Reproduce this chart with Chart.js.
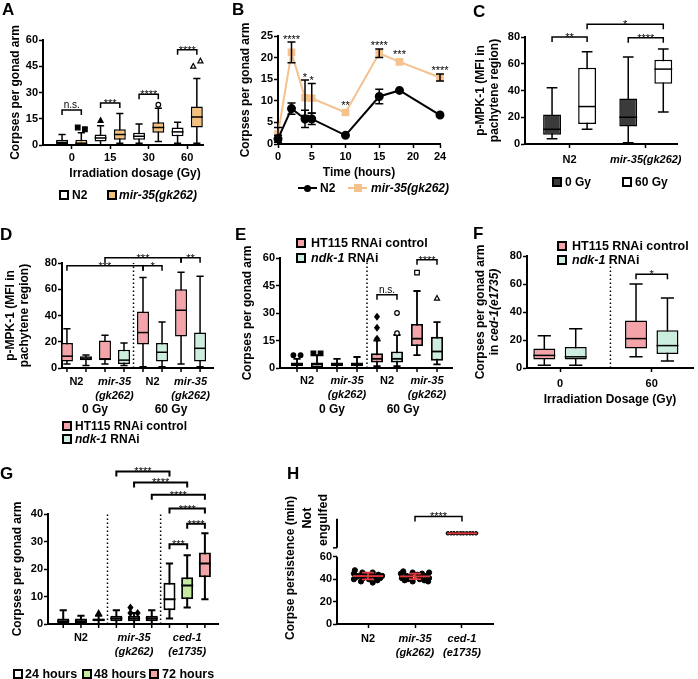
<!DOCTYPE html>
<html>
<head>
<meta charset="utf-8">
<script src="https://cdn.jsdelivr.net/npm/chart.js@4.4.1/dist/chart.umd.min.js"></script>
<style>
  html, body { margin: 0; padding: 0; background: #fff; }
  body { position: relative; width: 698px; height: 679px; overflow: hidden;
         font-family: "Liberation Sans", Arial, sans-serif; font-weight: bold; color: #000; }
  canvas { position: absolute; }
  .t { position: absolute; white-space: nowrap; line-height: 1; transform: translateY(-50%); z-index: 2; }
  .c { position: absolute; white-space: nowrap; line-height: 1; transform: translate(-50%, -50%); z-index: 2; }
  .r { position: absolute; white-space: nowrap; line-height: 1; transform: translate(-50%, -50%) rotate(-90deg); z-index: 2; }
  .sw { position: absolute; box-sizing: border-box; width: 10px; height: 10px; border: 2px solid #000; transform: translateY(-50%); z-index: 2; }
  .k { position: absolute; z-index: 2; }
</style>
</head>
<body>
<script>
// ---------- A : corpses vs irradiation dose ----------
const doseLabels = ['0', '15', '30', '60'];
const aN2Min = [0, 0, 1, 1];
const aN2Q1  = [0.5, 2, 3, 5];
const aN2Med = [1.5, 4, 5, 7.5];
const aN2Q3  = [3, 6, 7, 10];
const aN2Max = [6, 11, 12, 13];
const aN2Out = [[], [14], [], []];
const aMirMin = [0, 1, 2, 1];
const aMirQ1  = [0.5, 3, 7, 10];
const aMirMed = [1, 6, 10, 16];
const aMirQ3  = [3, 9, 13, 22];
const aMirMax = [7, 18, 21, 38];
const aMirOut = [[10, 9], [], [23], [45, 48]];
const aSig = [[0, 0, 0, 1, 20, 'n.s.'], [1, 0, 1, 1, 24, '***'], [2, 0, 2, 1, 29, '****'], [3, 0, 3, 1, 54.5, '****']];

// ---------- B : time course ----------
const hours = [0, 2, 4, 5, 10, 15, 18, 24];
const bN2Mean = [1.2, 8.2, 5.8, 5.8, 2.0, 11.0, 12.4, 6.7];
const bN2Sem  = [0.8, 1.3, 2.0, 1.3, 0, 1.7, 0, 0];
const bMirMean = [2.3, 21.2, 10.7, 10.6, 7.3, 21.0, 19.0, 15.4];
const bMirSem  = [1.5, 2.4, 4.1, 3.4, 0, 1.0, 0, 0.8];
const bSig = ['', '****', '*', '*', '**', '****', '***', '****'];

// ---------- C : p-MPK-1 ----------
const strainLabels = ['N2', 'mir-35(gk262)'];
const c0Min = [4, 1],   c0Q1 = [7, 13],  c0Med = [11, 20], c0Q3 = [22, 34], c0Max = [42, 65];
const c60Min = [11, 24], c60Q1 = [15, 45], c60Med = [28, 56], c60Q3 = [57, 63], c60Max = [69, 71];
const cSig = [[0, 0, 0, 1, 80, '**'], [1, 0, 1, 1, 79.5, '****'], [0, 1, 1, 1, 89.5, '*']];

// ---------- D : p-MPK-1 with RNAi ----------
const rnaiLabels = [['N2'], ['mir-35', '(gk262)'], ['N2'], ['mir-35', '(gk262)']];
const dCtlMin = [3, 3, 1, 3],  dCtlQ1 = [5, 6, 18, 24], dCtlMed = [9, 7, 27, 44], dCtlQ3 = [19, 21, 43, 60], dCtlMax = [30, 25, 69, 73];
const dNdkMin = [2, 2, 1, 1],  dNdkQ1 = [6, 3, 5, 5],   dNdkMed = [7.5, 6, 12, 15], dNdkQ3 = [9, 14, 19, 27], dNdkMax = [10, 19, 35, 70];
const dSig = [[0, 0, 2, 0, 78, '***'], [2, 0, 2, 1, 78, '*'], [1, 0, 3, 0, 84, '***'], [3, 0, 3, 1, 84, '**']];

// ---------- E : corpses with RNAi ----------
const eCtlMin = [0, 0, 1, 7],  eCtlQ1 = [1, 1, 3, 12], eCtlMed = [2, 2, 5, 16], eCtlQ3 = [3, 3, 8, 24], eCtlMax = [5, 5, 15, 42];
const eCtlOut = [[7, 7], [], [28, 22, 16], [52]];
const eNdkMin = [0, 0, 1, 2],  eNdkQ1 = [0, 1, 3, 4],  eNdkMed = [2, 2, 5, 9],  eNdkQ3 = [3, 3, 9, 17], eNdkMax = [7, 6, 18, 25];
const eNdkOut = [[8, 8], [], [30, 19], [38]];
const eSig = [[2, 0, 2, 1, 40, 'n.s.'], [3, 0, 3, 1, 59, '****']];

// ---------- F : ced-1 background ----------
const fDoseLabels = ['0', '60'];
const fCtlMin = [2, 8], fCtlQ1 = [6, 14], fCtlMed = [9, 21], fCtlQ3 = [14, 34], fCtlMax = [23, 60];
const fNdkMin = [2, 5], fNdkQ1 = [6, 10], fNdkMed = [8, 16], fNdkQ3 = [15, 27], fNdkMax = [28, 50];
const fSig = [[1, 0, 1, 1, 67, '*']];

// ---------- G : 24 / 48 / 72 hours ----------
const gLabels = [['N2'], ['mir-35', '(gk262)'], ['ced-1', '(e1735)']];
const g24Min = [0, 0, 2],  g24Q1 = [0, 1, 5],  g24Med = [1, 2, 9],    g24Q3 = [2, 3, 15], g24Max = [5, 5, 22];
const g48Min = [0, 0, 6],  g48Q1 = [0, 1, 9],  g48Med = [1, 2, 14],   g48Q3 = [2, 3, 17], g48Max = [3, 4, 25];
const g72Min = [0, 0, 9],  g72Q1 = [1, 1, 17], g72Med = [1.5, 2, 22], g72Q3 = [2, 3, 26], g72Max = [3, 5, 33];
const g24Out = [[], [], []], g48Out = [[], [6, 4, 4], []], g72Out = [[4], [], []];
const gSig = [[2, 0, 2, 1, 29, '***'], [2, 1, 2, 2, 36.5, '****'], [2, 0, 2, 2, 42, '****'],
              [1, 2, 2, 2, 47, '****'], [1, 1, 2, 1, 51.5, '****'], [1, 0, 2, 0, 55.5, '****']];

// ---------- H : corpse persistence ----------
const hLabels = [['N2'], ['mir-35', '(gk262)'], ['ced-1', '(e1735)']];
const hN2Val = [48, 46, 46, 45, 44, 44, 43, 43, 43, 42, 42, 41, 41, 40, 40, 39, 38, 37];
const hN2Jit = [-0.28, -0.12, 0.1, -0.3, 0.22, -0.05, -0.2, 0.05, 0.3, -0.25, 0.15, -0.1, 0.26, -0.3, 0.02, 0.2, -0.15, 0.1];
const hMirVal = [47, 46, 46, 45, 45, 44, 43, 43, 42, 42, 41, 41, 40, 40, 39, 39, 38, 38];
const hMirJit = [-0.25, -0.05, 0.3, -0.3, 0.15, 0.05, -0.18, 0.25, -0.1, 0.12, -0.28, 0.3, -0.15, 0.1, -0.22, 0.2, -0.05, 0.28];
const hCedVal = [81, 81, 81, 81, 81, 81, 81, 81, 81, 81];   // "not engulfed" band
const hCedJit = [-0.3, -0.23, -0.17, -0.1, -0.03, 0.03, 0.1, 0.17, 0.23, 0.3];
const hMean = [42.8, 42.5, 81];
const hSd = [3, 2.5, 0];
const hSig = [[1, 2, 96, '****']];

// ---------- styling ----------
const FONT = '"Liberation Sans", Arial, sans-serif';
const PINK = '#F4A3A8', MINT = '#CDEEDF', ORANGE = '#F5C07C', PEACH = '#F5C28E';
const LIME = '#C6E9A0', ROSE = '#F3A3A5', DARK = '#3B3B3B', RED = '#E2383C';
const LH = 13.8; // axis title line height

Chart.defaults.font.family = FONT;
Chart.defaults.font.weight = 'bold';
Chart.defaults.font.size = 11;
Chart.defaults.color = '#000';

function frame(p) {
  const cv = document.createElement('canvas');
  cv.width = p.canvas.w; cv.height = p.canvas.h;
  cv.style.left = p.canvas.x + 'px'; cv.style.top = p.canvas.y + 'px';
  document.body.appendChild(cv);
  const padL = p.yTitle ? p.yTitleX - p.canvas.x - LH / 2 : 0;
  const padB = p.xTitle ? p.canvas.y + p.canvas.h - (p.xTitleY + LH / 2) : 0;
  return {
    cv,
    padding: { left: padL, top: p.area.t - p.canvas.y, right: p.canvas.x + p.canvas.w - p.area.r, bottom: padB },
    yW: p.area.l - p.canvas.x - padL,
    xH: p.canvas.y + p.canvas.h - padB - p.area.b
  };
}

function axisTitle(text) {
  return text ? { display: true, text, padding: 0, color: '#000', font: { size: 12, weight: 'bold', lineHeight: 1.15 } }
              : { display: false };
}

function yAxis(f, p) {
  const ax = {
    type: 'linear', position: 'left', min: p.yMin, max: p.yMax,
    ticks: { stepSize: p.yStep, padding: 1, font: { size: 11, weight: 'bold' } },
    grid: { drawOnChartArea: false, tickLength: 4, tickWidth: 1.5, tickColor: '#000' },
    border: { color: '#000', width: 2, display: !p.yBroken },
    title: axisTitle(p.yTitle),
    afterFit: s => { s.width = f.yW; s.paddingTop = s.paddingBottom = 0; }
  };
  if (p.yTicks) ax.afterBuildTicks = s => { s.ticks = p.yTicks.map(v => ({ value: v })); };
  return ax;
}

function xGroups(f, p) {
  return {
    type: 'linear', position: 'bottom', min: p.xMin, max: p.xMax, offset: false,
    afterBuildTicks: s => { s.ticks = p.labels.map((l, i) => ({ value: i })); },
    ticks: {
      autoSkip: false, maxRotation: 0, minRotation: 0, padding: p.tickPad,
      callback: (v, i) => p.labels[i],
      font: c => ({ size: 11, weight: 'bold', lineHeight: 1.25, style: p.italic[c.index] ? 'italic' : 'normal' })
    },
    grid: { offset: false, drawOnChartArea: false, tickLength: 4, tickWidth: 1.5,
            tickColor: p.boxTicks ? 'rgba(0,0,0,0)' : '#000' },
    border: { color: '#000', width: 2 },
    title: axisTitle(p.xTitle),
    afterFit: s => { s.height = f.xH; s.paddingLeft = s.paddingRight = 0; }
  };
}

function drawMark(ctx, type, x, y, r) {
  const open = type.charAt(0) === 'o';
  const shape = open ? type.slice(1) : type;
  ctx.save();
  ctx.lineWidth = 1.2; ctx.strokeStyle = '#000'; ctx.setLineDash([]);
  ctx.fillStyle = open ? '#fff' : '#000';
  ctx.beginPath();
  if (shape === 'circ') ctx.arc(x, y, r, 0, Math.PI * 2);
  else if (shape === 'sq') ctx.rect(x - r, y - r, 2 * r, 2 * r);
  else if (shape === 'tri') { ctx.moveTo(x, y - r * 1.2); ctx.lineTo(x + r * 1.1, y + r * 0.8); ctx.lineTo(x - r * 1.1, y + r * 0.8); ctx.closePath(); }
  else if (shape === 'dia') { ctx.moveTo(x, y - r * 1.3); ctx.lineTo(x + r, y); ctx.lineTo(x, y + r * 1.3); ctx.lineTo(x - r, y); ctx.closePath(); }
  ctx.fill(); ctx.stroke();
  ctx.restore();
}

function drawBracket(ctx, x1, x2, y, text, lw) {
  ctx.save();
  ctx.strokeStyle = '#000'; ctx.fillStyle = '#000'; ctx.lineWidth = lw || 1.5; ctx.setLineDash([]);
  ctx.beginPath();
  ctx.moveTo(x1, y + 5); ctx.lineTo(x1, y); ctx.lineTo(x2, y); ctx.lineTo(x2, y + 5);
  ctx.stroke();
  ctx.textAlign = 'center'; ctx.textBaseline = 'alphabetic';
  if (text.charAt(0) === '*') { ctx.font = 'normal 11px ' + FONT; ctx.fillText(text, (x1 + x2) / 2, y + 4); }
  else { ctx.font = 'normal 10px ' + FONT; ctx.fillText(text, (x1 + x2) / 2, y - 2); }
  ctx.restore();
}

// whiskers, medians, outliers, brackets and dotted dividers for a box panel
function boxPlugin(p) {
  const els = (chart, si) => chart.getDatasetMeta(si).data;
  const lw = p.lw || 1.5;
  return {
    id: 'boxes',
    beforeDatasetsDraw(chart) {
      const ctx = chart.ctx, ys = chart.scales.y;
      ctx.save(); ctx.strokeStyle = '#000'; ctx.lineWidth = lw;
      p.series.forEach((s, si) => els(chart, si).forEach((el, gi) => {
        const x = el.x, c = el.width * 0.3;
        const lo = ys.getPixelForValue(s.min[gi]), hi = ys.getPixelForValue(s.max[gi]);
        ctx.beginPath();
        ctx.moveTo(x, lo); ctx.lineTo(x, hi);
        ctx.moveTo(x - c, lo); ctx.lineTo(x + c, lo);
        ctx.moveTo(x - c, hi); ctx.lineTo(x + c, hi);
        ctx.stroke();
      }));
      ctx.restore();
    },
    afterDatasetsDraw(chart) {
      const ctx = chart.ctx, ys = chart.scales.y, xs = chart.scales.x, area = chart.chartArea;
      ctx.save(); ctx.strokeStyle = '#000'; ctx.lineWidth = lw;
      p.series.forEach((s, si) => els(chart, si).forEach((el, gi) => {
        const y = ys.getPixelForValue(s.med[gi]);
        ctx.beginPath(); ctx.moveTo(el.x - el.width / 2, y); ctx.lineTo(el.x + el.width / 2, y); ctx.stroke();
        const outs = (s.out && s.out[gi]) || [];
        outs.forEach((v, k) => {
          const crowded = outs.some((w, j) => j !== k && Math.abs(w - v) <= 3);
          const dx = crowded ? (k % 2 ? 1 : -1) * el.width * 0.3 : 0;
          drawMark(ctx, s.marks[gi], el.x + dx, ys.getPixelForValue(v), 2.3);
        });
        if (p.boxTicks) {
          ctx.save(); ctx.lineWidth = 1.5;
          ctx.beginPath(); ctx.moveTo(el.x, area.bottom); ctx.lineTo(el.x, area.bottom + 4); ctx.stroke();
          ctx.restore();
        }
      }));
      (p.dividers || []).forEach(v => {
        const x = xs.getPixelForValue(v);
        ctx.save(); ctx.setLineDash([1.5, 2.5]); ctx.lineWidth = 1.5;
        ctx.beginPath(); ctx.moveTo(x, area.bottom); ctx.lineTo(x, ys.getPixelForValue(p.dividerTop)); ctx.stroke();
        ctx.restore();
      });
      (p.brackets || []).forEach(([g1, s1, g2, s2, v, t]) => {
        drawBracket(ctx, els(chart, s1)[g1].x, els(chart, s2)[g2].x, ys.getPixelForValue(v), t, p.bracketWidth);
      });
      ctx.restore();
    }
  };
}

function boxPanel(p) {
  const f = frame(p);
  const datasets = p.series.map(s => ({
    data: s.q1.map((q, i) => ({ x: i, y: [q, s.q3[i]] })),
    backgroundColor: s.fill, borderColor: '#000', borderWidth: p.lw || 1.5, borderSkipped: false,
    categoryPercentage: p.cat, barPercentage: p.bar
  }));
  new Chart(f.cv, {
    type: 'bar',
    data: { datasets },
    options: {
      responsive: false, animation: false, devicePixelRatio: 1,
      layout: { padding: f.padding },
      plugins: { legend: { display: false }, tooltip: { enabled: false } },
      scales: { x: xGroups(f, p), y: yAxis(f, p) }
    },
    plugins: [boxPlugin(p)]
  });
}

// ---------- panel A ----------
boxPanel({
  canvas: { x: 0, y: 15, w: 228, h: 170 }, area: { l: 43, t: 40, r: 203, b: 145 },
  yTitle: 'Corpses per gonad arm', yTitleX: 16, yMin: 0, yMax: 60, yStep: 15,
  labels: doseLabels, italic: [], xMin: -0.745, xMax: 3.41, cat: 1, bar: 0.62, tickPad: 2,
  series: [
    { fill: '#fff', min: aN2Min, q1: aN2Q1, med: aN2Med, q3: aN2Q3, max: aN2Max, out: aN2Out, marks: ['circ', 'tri', 'circ', 'circ'] },
    { fill: ORANGE, min: aMirMin, q1: aMirQ1, med: aMirMed, q3: aMirQ3, max: aMirMax, out: aMirOut, marks: ['sq', 'circ', 'ocirc', 'otri'] }
  ],
  brackets: aSig
});

// ---------- panel B ----------
(function () {
  const p = { canvas: { x: 228, y: 15, w: 232, h: 172 }, area: { l: 278, t: 36, r: 440, b: 144 },
              yTitle: 'Corpses per gonad arm', yTitleX: 246, xTitle: 'Time (hours)', xTitleY: 173,
              yMin: 0, yMax: 25, yStep: 5 };
  const f = frame(p);
  const errPlugin = {
    id: 'errs',
    afterDatasetsDraw(chart) {
      const ctx = chart.ctx, ys = chart.scales.y;
      ctx.save(); ctx.strokeStyle = '#000'; ctx.fillStyle = '#000'; ctx.lineWidth = 1.5;
      [[bN2Mean, bN2Sem], [bMirMean, bMirSem]].forEach(([m, e], di) => {
        chart.getDatasetMeta(di).data.forEach((pt, i) => {
          if (!e[i]) return;
          const y1 = ys.getPixelForValue(m[i] - e[i]), y2 = ys.getPixelForValue(m[i] + e[i]);
          ctx.beginPath();
          ctx.moveTo(pt.x, y1); ctx.lineTo(pt.x, y2);
          ctx.moveTo(pt.x - 4, y1); ctx.lineTo(pt.x + 4, y1);
          ctx.moveTo(pt.x - 4, y2); ctx.lineTo(pt.x + 4, y2);
          ctx.stroke();
        });
      });
      ctx.font = 'normal 11px ' + FONT; ctx.textAlign = 'center'; ctx.textBaseline = 'alphabetic';
      chart.getDatasetMeta(1).data.forEach((pt, i) => {
        if (!bSig[i]) return;
        const top = Math.min(ys.getPixelForValue(bMirMean[i] + bMirSem[i]), pt.y - 4);
        ctx.fillText(bSig[i], pt.x, top + 0.5);
      });
      ctx.restore();
    }
  };
  new Chart(f.cv, {
    type: 'line',
    data: {
      datasets: [
        { data: hours.map((h, i) => ({ x: h, y: bN2Mean[i] })), borderColor: '#000', backgroundColor: '#000',
          borderWidth: 2, pointStyle: 'circle', pointRadius: 3.5, clip: false },
        { data: hours.map((h, i) => ({ x: h, y: bMirMean[i] })), borderColor: PEACH, backgroundColor: PEACH,
          borderWidth: 2, pointStyle: 'rect', pointRadius: 4, clip: false }
      ]
    },
    options: {
      responsive: false, animation: false, devicePixelRatio: 1,
      layout: { padding: f.padding },
      plugins: { legend: { display: false }, tooltip: { enabled: false } },
      scales: {
        x: { type: 'linear', min: 0, max: 24,
             ticks: { stepSize: 5, padding: 2, font: { size: 11, weight: 'bold' } },
             grid: { drawOnChartArea: false, tickLength: 4, tickWidth: 1.5, tickColor: '#000' },
             border: { color: '#000', width: 2 },
             title: axisTitle(p.xTitle),
             afterFit: s => { s.height = f.xH; s.paddingLeft = s.paddingRight = 0; } },
        y: yAxis(f, p)
      }
    },
    plugins: [errPlugin]
  });
})();

// ---------- panel C ----------
boxPanel({
  canvas: { x: 460, y: 5, w: 238, h: 170 }, area: { l: 525, t: 37, r: 677, b: 144 },
  yTitle: ['p-MPK-1 (MFI in', 'pachytene region)'], yTitleX: 481, yMin: 0, yMax: 80, yStep: 20,
  labels: strainLabels, italic: [false, true], xMin: -0.585, xMax: 1.41, cat: 0.92, bar: 0.51, tickPad: 5,
  series: [
    { fill: DARK, min: c0Min, q1: c0Q1, med: c0Med, q3: c0Q3, max: c0Max },
    { fill: '#fff', min: c60Min, q1: c60Q1, med: c60Med, q3: c60Q3, max: c60Max }
  ],
  brackets: cSig
});

// ---------- panel D ----------
boxPanel({
  canvas: { x: 0, y: 235, w: 228, h: 172 }, area: { l: 62, t: 263, r: 213, b: 368 },
  yTitle: ['p-MPK-1 (MFI in', 'pachytene region)'], yTitleX: 11, yMin: 0, yMax: 80, yStep: 20,
  labels: rnaiLabels, italic: [false, true, false, true], xMin: -0.38, xMax: 3.59, cat: 1, bar: 0.63, tickPad: 3,
  boxTicks: true, dividers: [1.5], dividerTop: 80,
  series: [
    { fill: PINK, min: dCtlMin, q1: dCtlQ1, med: dCtlMed, q3: dCtlQ3, max: dCtlMax },
    { fill: MINT, min: dNdkMin, q1: dNdkQ1, med: dNdkMed, q3: dNdkQ3, max: dNdkMax }
  ],
  brackets: dSig
});

// ---------- panel E ----------
boxPanel({
  canvas: { x: 228, y: 235, w: 232, h: 172 }, area: { l: 280, t: 258, r: 452, b: 368 },
  yTitle: 'Corpses per gonad arm', yTitleX: 248, yMin: 0, yMax: 60, yStep: 15,
  labels: rnaiLabels, italic: [false, true, false, true], xMin: -0.675, xMax: 3.625, cat: 1, bar: 0.6, tickPad: 2,
  boxTicks: true, dividers: [1.5], dividerTop: 60, lw: 1.8,
  series: [
    { fill: PINK, min: eCtlMin, q1: eCtlQ1, med: eCtlMed, q3: eCtlQ3, max: eCtlMax, out: eCtlOut, marks: ['circ', 'circ', 'dia', 'osq'] },
    { fill: MINT, min: eNdkMin, q1: eNdkQ1, med: eNdkMed, q3: eNdkQ3, max: eNdkMax, out: eNdkOut, marks: ['sq', 'sq', 'ocirc', 'otri'] }
  ],
  brackets: eSig
});

// ---------- panel F ----------
boxPanel({
  canvas: { x: 460, y: 235, w: 238, h: 172 }, area: { l: 527, t: 256, r: 693, b: 368 },
  xTitle: 'Irradiation Dosage (Gy)', xTitleY: 400, yMin: 0, yMax: 80, yStep: 20,
  labels: fDoseLabels, italic: [], xMin: -0.36, xMax: 1.45, cat: 0.685, bar: 0.7, tickPad: 5,
  dividers: [0.55], dividerTop: 80,
  series: [
    { fill: PINK, min: fCtlMin, q1: fCtlQ1, med: fCtlMed, q3: fCtlQ3, max: fCtlMax },
    { fill: MINT, min: fNdkMin, q1: fNdkQ1, med: fNdkMed, q3: fNdkQ3, max: fNdkMax }
  ],
  brackets: fSig
});

// ---------- panel G ----------
boxPanel({
  canvas: { x: 0, y: 455, w: 262, h: 212 }, area: { l: 48, t: 514, r: 218, b: 624 },
  yTitle: 'Corpses per gonad arm', yTitleX: 18, yMin: 0, yMax: 40, yStep: 10,
  labels: gLabels, italic: [false, true, true], xMin: -0.62, xMax: 2.58, cat: 1, bar: 0.68, tickPad: 3,
  boxTicks: true, dividers: [0.5, 1.5], dividerTop: 40, bracketWidth: 2, lw: 2,
  series: [
    { fill: '#fff', min: g24Min, q1: g24Q1, med: g24Med, q3: g24Q3, max: g24Max, out: g24Out, marks: ['circ', 'circ', 'circ'] },
    { fill: LIME, min: g48Min, q1: g48Q1, med: g48Med, q3: g48Q3, max: g48Max, out: g48Out, marks: ['circ', 'dia', 'circ'] },
    { fill: ROSE, min: g72Min, q1: g72Q1, med: g72Med, q3: g72Q3, max: g72Max, out: g72Out, marks: ['tri', 'circ', 'circ'] }
  ],
  brackets: gSig
});

// ---------- panel H ----------
(function () {
  const p = { canvas: { x: 275, y: 480, w: 240, h: 190 }, area: { l: 337, t: 512, r: 493, b: 624 },
              yTitle: 'Corpse persistence (min)', yTitleX: 291, yMin: 0, yMax: 100, yTicks: [0, 20, 40, 60], yBroken: true,
              labels: hLabels, italic: [false, true, true], xMin: -0.66, xMax: 2.66, tickPad: 4 };
  const f = frame(p);
  const pts = (vals, jit, g) => vals.map((v, i) => ({ x: g + jit[i], y: v }));
  const hPlugin = {
    id: 'persist',
    beforeDatasetsDraw(chart) {
      const ctx = chart.ctx, ys = chart.scales.y, x0 = chart.chartArea.left;
      ctx.save(); ctx.strokeStyle = '#000'; ctx.lineWidth = 2;
      ctx.beginPath();
      ctx.moveTo(x0, ys.getPixelForValue(0) + 1); ctx.lineTo(x0, ys.getPixelForValue(60));
      ctx.moveTo(x0, ys.getPixelForValue(94)); ctx.lineTo(x0, ys.getPixelForValue(68));
      ctx.stroke();
      ctx.lineWidth = 1.5;
      ctx.beginPath(); ctx.moveTo(x0 - 4, ys.getPixelForValue(68)); ctx.lineTo(x0, ys.getPixelForValue(68)); ctx.stroke();
      ctx.restore();
    },
    afterDatasetsDraw(chart) {
      const ctx = chart.ctx, ys = chart.scales.y, xs = chart.scales.x;
      ctx.save(); ctx.strokeStyle = RED; ctx.lineWidth = 1.8;
      hMean.forEach((m, g) => {
        const x = xs.getPixelForValue(g), y = ys.getPixelForValue(m);
        ctx.beginPath(); ctx.moveTo(x - 15, y); ctx.lineTo(x + 15, y); ctx.stroke();
        if (hSd[g]) {
          const y1 = ys.getPixelForValue(m - hSd[g]), y2 = ys.getPixelForValue(m + hSd[g]);
          ctx.beginPath();
          ctx.moveTo(x, y1); ctx.lineTo(x, y2);
          ctx.moveTo(x - 6, y1); ctx.lineTo(x + 6, y1);
          ctx.moveTo(x - 6, y2); ctx.lineTo(x + 6, y2);
          ctx.stroke();
        }
      });
      ctx.restore();
      hSig.forEach(([g1, g2, v, t]) => drawBracket(ctx, xs.getPixelForValue(g1), xs.getPixelForValue(g2), ys.getPixelForValue(v), t, 1.5));
    }
  };
  new Chart(f.cv, {
    type: 'scatter',
    data: {
      datasets: [
        { data: pts(hN2Val, hN2Jit, 0), backgroundColor: '#000', borderColor: '#000', pointRadius: 2.6 },
        { data: pts(hMirVal, hMirJit, 1), backgroundColor: '#000', borderColor: '#000', pointRadius: 2.6 },
        { data: pts(hCedVal, hCedJit, 2), backgroundColor: '#000', borderColor: '#000', pointRadius: 1.8 }
      ]
    },
    options: {
      responsive: false, animation: false, devicePixelRatio: 1,
      layout: { padding: f.padding },
      plugins: { legend: { display: false }, tooltip: { enabled: false } },
      scales: { x: xGroups(f, p), y: yAxis(f, p) }
    },
    plugins: [hPlugin]
  });
})();

// ---------- HTML text: panel letters, legends, group labels ----------
function el(cls, x, y, html, size) {
  const d = document.createElement('div');
  d.className = cls; d.style.left = x + 'px'; d.style.top = y + 'px';
  if (size) d.style.fontSize = size + 'px';
  d.innerHTML = html;
  document.body.appendChild(d);
  return d;
}
function sw(x, y, color) { el('sw', x, y, '').style.background = color; }
function shape(x, y, w, h, color, radius) {
  const d = el('k', x, y, '');
  d.style.width = w + 'px'; d.style.height = h + 'px'; d.style.background = color;
  if (radius) d.style.borderRadius = radius;
}

[['A', 2, 9], ['B', 232, 9], ['C', 473, 11], ['D', 0, 234], ['E', 235, 234], ['F', 473, 233], ['G', 0, 473], ['H', 287, 473]]
  .forEach(([t, x, y]) => el('t', x, y, t, 17));

// A
el('c', 135, 173, 'Irradiation dosage (Gy)', 12);
sw(59, 195, '#fff'); el('t', 72, 195, 'N2', 12);
sw(107, 195, ORANGE); el('t', 119, 195, '<i>mir-35(gk262)</i>', 12);

// B
shape(298, 187, 19, 2, '#000'); shape(304, 184.5, 7, 7, '#000', '50%'); el('t', 320, 188, 'N2', 12);
shape(348, 187, 19, 2, PEACH); shape(353.5, 184, 8, 8, PEACH); el('t', 371, 188, '<i>mir-35(gk262)</i>', 12);

// C
sw(552, 182, DARK); el('t', 565, 182, '0 Gy', 12);
sw(622, 182, '#fff'); el('t', 635, 182, '60 Gy', 12);

// D
el('c', 95, 409, '0 Gy', 12); el('c', 171, 409, '60 Gy', 12);
sw(62, 426, PINK); el('t', 75, 426, 'HT115 RNAi control', 12);
sw(62, 439, MINT); el('t', 75, 439, '<i>ndk-1</i> RNAi', 12);

// E
el('c', 332, 409, '0 Gy', 12); el('c', 403, 409, '60 Gy', 12);
sw(296, 243, PINK); el('t', 311, 243, 'HT115 RNAi control', 12.5);
sw(296, 258, MINT); el('t', 311, 258, '<i>ndk-1</i> RNAi', 12.5);

// F
sw(557, 246, PINK); el('t', 572, 246, 'HT115 RNAi control', 12.5);
sw(557, 260, MINT); el('t', 572, 260, '<i>ndk-1</i> RNAi', 12.5);
el('r', 480, 312, 'Corpses per gonad arm', 12);
el('r', 494, 312, 'in <i>ced-1(e1735)</i>', 12);

// G
sw(13, 674, '#fff'); el('t', 25, 674, '24 hours', 12.5);
sw(82, 674, LIME); el('t', 94, 674, '48 hours', 12.5);
sw(149, 674, ROSE); el('t', 162, 674, '72 hours', 12.5);

// H
el('r', 307, 518, 'Not', 12.5);
el('r', 323, 520, 'engulfed', 12.5);
</script>
</body>
</html>
